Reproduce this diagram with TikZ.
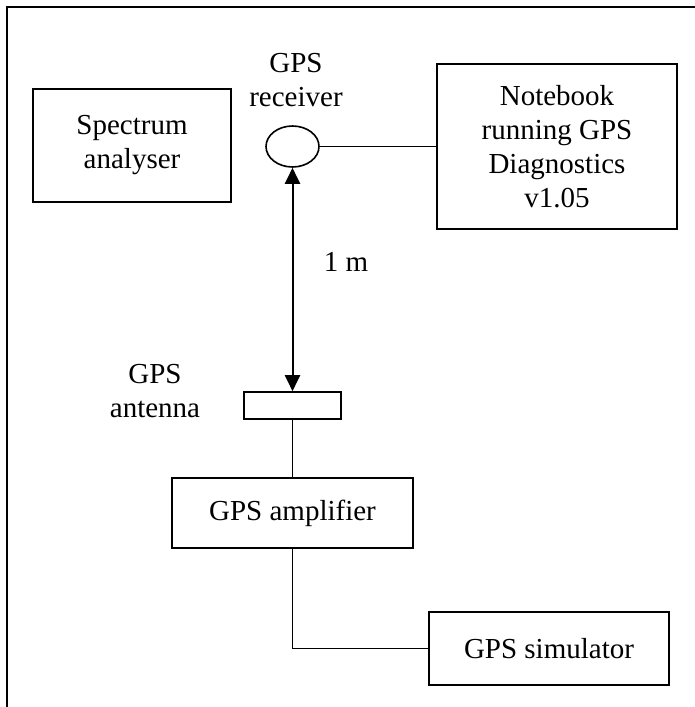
\documentclass[tikz,border=0pt]{standalone}
\usepackage{fontspec}
\setmainfont{Liberation Serif}
\usetikzlibrary{shapes.geometric,arrows.meta}
\begin{document}
\begin{tikzpicture}[x=1pt,y=-1pt,
  box/.style={draw,line width=1.6pt,inner sep=0pt,align=center,font=\fontsize{29}{34}\selectfont},
  lbl/.style={inner sep=0pt,align=center,font=\fontsize{29}{34}\selectfont},
  wire/.style={line width=1.3pt}]
\useasboundingbox (0,0) rectangle (695,707);
\draw[line width=1.8pt] (7,707) -- (7,7) -- (695,7);
\node[box,minimum width=198pt,minimum height=113pt] (sa) at (132,145.5) {Spectrum\\analyser};
\node[box,minimum width=240pt,minimum height=165pt] (nb) at (557,146.5) {Notebook\\running GPS\\Diagnostics\\v1.05};
\node[draw,ellipse,line width=1.6pt,minimum width=53pt,minimum height=41pt,inner sep=0pt] (rx) at (292.5,146.5) {};
\node[lbl] (rxl) at (296,80) {GPS\\receiver};
\node[draw,line width=1.6pt,minimum width=97pt,minimum height=27pt,inner sep=0pt] (ant) at (292.5,405.5) {};
\node[lbl] (antl) at (155,391) {GPS\\antenna};
\node[lbl] (dist) at (346,262) {1 m};
\node[box,minimum width=241pt,minimum height=70pt] (amp) at (292.5,513) {GPS amplifier};
\node[box,minimum width=240pt,minimum height=73pt] (sim) at (549,648.5) {GPS simulator};
\draw[wire] (rx.east) -- (nb.west);
\draw[line width=2pt,{Triangle[width=15pt,length=16pt]}-{Triangle[width=15pt,length=16pt]}] (rx.south) -- (ant.north);
\draw[wire] (ant.south) -- (amp.north);
\draw[wire] (amp.south) |- (sim.west);
\end{tikzpicture}
\end{document}
